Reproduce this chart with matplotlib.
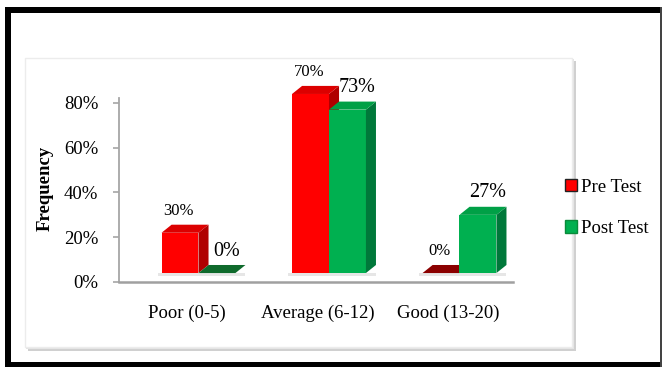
import matplotlib.pyplot as plt
from matplotlib.patches import Rectangle, Polygon, Patch

plt.rcParams['font.family'] = ['Liberation Serif', 'DejaVu Serif']

# data
categories = ["Poor (0-5)", "Average (6-12)", "Good (13-20)"]
pre_test = [18, 80, 0]      # heights of the bars as drawn
post_test = [0, 73, 26]
pre_labels = ["30%", "70%", "0%"]
post_labels = ["0%", "73%", "27%"]
yticks = [0, 20, 40, 60, 80]

fig = plt.figure(figsize=(6.62, 3.67), dpi=100)

# background: black frame + white panel with shadow (pixel coords)
bg = fig.add_axes([0, 0, 1, 1], zorder=0)
bg.set_xlim(0, 662)
bg.set_ylim(367, 0)
bg.axis('off')
bg.add_patch(Rectangle((28, 61), 548, 290, color='#d0d0d0', lw=0))
bg.add_patch(Rectangle((26, 59), 548, 290, color='#e4e4e4', lw=0))
bg.add_patch(Rectangle((25, 58), 547, 289, facecolor='white', edgecolor='#ececec', lw=1))
bg.add_patch(Rectangle((5, 7), 6, 360, color='black', lw=0))
bg.add_patch(Rectangle((5, 7), 657, 6, color='black', lw=0))
bg.add_patch(Rectangle((5, 362), 657, 5, color='black', lw=0))
bg.add_patch(Rectangle((660, 7), 2, 360, color='#444444', lw=0))

ax = fig.add_axes([119/662, 85/367, 394/662, 184/367], zorder=1)
ax.set_facecolor('none')
ax.set_xlim(-0.521, 2.498)
ax.set_ylim(0, 82.2)

w = 0.283      # bar width
shift = 0.088  # bars sit right of the tick
dx, dy = 0.077, 3.6   # 3d depth
base = 4.0


def bar3d(x0, h, front, side, top, flat):
    if h > 0:
        ax.add_patch(Rectangle((x0, base), w, h, facecolor=front, lw=0, clip_on=False))
        ax.add_patch(Polygon([(x0 + w, base), (x0 + w + dx, base + dy),
                              (x0 + w + dx, base + h + dy), (x0 + w, base + h)],
                             facecolor=side, lw=0, clip_on=False))
        ax.add_patch(Polygon([(x0, base + h), (x0 + dx, base + h + dy),
                              (x0 + w + dx, base + h + dy), (x0 + w, base + h)],
                             facecolor=top, lw=0, clip_on=False))
    else:
        ax.add_patch(Polygon([(x0, base), (x0 + dx, base + dy),
                              (x0 + w + dx, base + dy), (x0 + w, base)],
                             facecolor=flat, lw=0, clip_on=False))


for i in range(len(categories)):
    x_pre = i + shift - w
    x_post = i + shift
    # soft floor shadow
    ax.add_patch(Rectangle((x_pre - 0.03, base - 1.5), 2 * w + dx + 0.03, 1.5,
                           color='#e6e6e6', lw=0, clip_on=False))
    bar3d(x_pre, pre_test[i], '#ff0000', '#b00000', '#dc0000', '#8b0000')
    bar3d(x_post, post_test[i], '#00b050', '#00783a', '#00a046', '#0f6a2c')
    ax.annotate(pre_labels[i], xy=(x_pre + w / 2 - 0.01, base + pre_test[i] + dy),
                xytext=(0, 10), textcoords='offset points', annotation_clip=False,
                ha='center', va='center', fontsize=12)
    ax.annotate(post_labels[i], xy=(x_post + w / 2 + dx, base + post_test[i] + dy),
                xytext=(0, 10), textcoords='offset points', annotation_clip=False,
                ha='center', va='center', fontsize=14.5)

ax.set_yticks(yticks, [f"{v}%" for v in yticks])
ax.set_xticks(range(len(categories)), categories)
ax.tick_params(axis='y', length=4, color='#a6a6a6', width=1.2, pad=11, labelsize=13.5)
ax.tick_params(axis='x', length=0, pad=16, labelsize=13.5)
for s in ['top', 'right']:
    ax.spines[s].set_visible(False)
ax.spines['left'].set_color('#a6a6a6')
ax.spines['left'].set_linewidth(1.3)
ax.spines['bottom'].set_color('#a0a0a0')
ax.spines['bottom'].set_linewidth(1.8)

fig.text(45/662, 1 - 188/367, "Frequency", rotation=90, ha='center', va='center',
         fontsize=13.5, fontweight='bold')

handles = [Patch(facecolor='#ff0000', edgecolor='#222222', lw=1),
           Patch(facecolor='#00b050', edgecolor='#0a8a3a', lw=1)]
fig.legend(handles, ["Pre Test", "Post Test"], loc='center left',
           bbox_to_anchor=(548/662, 1 - 208/367), frameon=False,
           handlelength=0.65, handleheight=0.65, handletextpad=0.2,
           labelspacing=1.3, fontsize=13.5)

plt.savefig("out.png", dpi=100)
